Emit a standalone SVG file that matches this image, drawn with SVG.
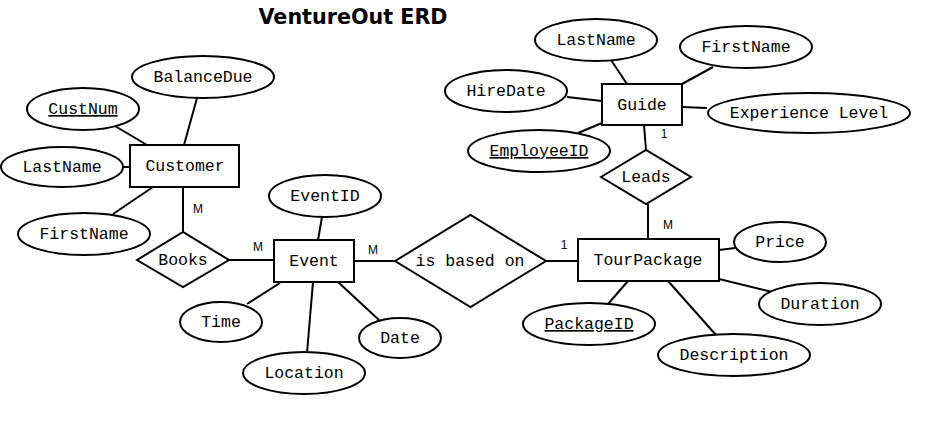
<svg xmlns="http://www.w3.org/2000/svg" width="931" height="445" viewBox="0 0 931 445">
<style>
.shape{fill:#fff;stroke:#000;stroke-width:2}
.t{font-family:"Liberation Mono","Courier New",monospace;font-size:16.5px;text-anchor:middle;fill:#000}
.u{text-decoration:underline}
.c{font-family:"Liberation Sans",Arial,sans-serif;font-size:12px;text-anchor:middle;fill:#000}
.ln{stroke:#000;stroke-width:2;fill:none}
.title{font-family:"DejaVu Sans",Verdana,sans-serif;font-weight:bold;font-size:21px;text-anchor:middle;fill:#000}
</style>
<rect width="931" height="445" fill="#fff"/>
<text class="title" x="353" y="24" textLength="189" lengthAdjust="spacingAndGlyphs">VentureOut ERD</text>
<g id="connectors">
<line class="ln" x1="115" y1="126" x2="147" y2="145"/>
<line class="ln" x1="197" y1="98" x2="184" y2="145"/>
<line class="ln" x1="123" y1="167" x2="130" y2="167"/>
<line class="ln" x1="113" y1="214" x2="153" y2="187"/>
<line class="ln" x1="183" y1="187" x2="183" y2="232"/>
<line class="ln" x1="229" y1="260" x2="274" y2="260"/>
<line class="ln" x1="354" y1="261" x2="395" y2="261"/>
<line class="ln" x1="322" y1="217" x2="318" y2="240"/>
<line class="ln" x1="247" y1="304" x2="280" y2="283"/>
<line class="ln" x1="307" y1="353" x2="313" y2="282"/>
<line class="ln" x1="379" y1="320" x2="338" y2="282"/>
<line class="ln" x1="546" y1="261" x2="578" y2="261"/>
<line class="ln" x1="648" y1="204" x2="648" y2="239"/>
<line class="ln" x1="719" y1="250" x2="735" y2="248"/>
<line class="ln" x1="719" y1="279" x2="772" y2="292"/>
<line class="ln" x1="608" y1="304" x2="628" y2="281"/>
<line class="ln" x1="716" y1="335" x2="668" y2="281"/>
<line class="ln" x1="611" y1="60" x2="627" y2="84"/>
<line class="ln" x1="567" y1="97" x2="602" y2="101"/>
<line class="ln" x1="578" y1="133" x2="602" y2="123"/>
<line class="ln" x1="713" y1="67" x2="682" y2="84"/>
<line class="ln" x1="682" y1="107" x2="707" y2="108"/>
<line class="ln" x1="644" y1="125" x2="646" y2="150"/>
<text class="c" x="198" y="213">M</text>
<text class="c" x="258" y="251">M</text>
<text class="c" x="373" y="254">M</text>
<text class="c" x="564" y="249">1</text>
<text class="c" x="668" y="229">M</text>
<text class="c" x="664" y="138">1</text>
</g>
<g id="customer"><rect class="shape" x="130" y="145" width="109" height="42"/><text class="t" x="185" y="171">Customer</text></g>
<g id="customer-balancedue"><ellipse class="shape" cx="203" cy="77" rx="71" ry="21"/><text class="t" x="203" y="82">BalanceDue</text></g>
<g id="customer-custnum"><ellipse class="shape" cx="83" cy="109" rx="56" ry="21"/><text class="t u" x="83" y="114">CustNum</text></g>
<g id="customer-lastname"><ellipse class="shape" cx="62" cy="167" rx="61" ry="20"/><text class="t" x="62" y="172">LastName</text></g>
<g id="customer-firstname"><ellipse class="shape" cx="84" cy="234" rx="66" ry="21"/><text class="t" x="84" y="239">FirstName</text></g>
<g id="books"><polygon class="shape" points="137,260 183,232 229,260 183,287"/><text class="t" x="183" y="265">Books</text></g>
<g id="event"><rect class="shape" x="274" y="240" width="80" height="42"/><text class="t" x="314" y="266">Event</text></g>
<g id="event-eventid"><ellipse class="shape" cx="325" cy="196" rx="56" ry="21"/><text class="t" x="325" y="201">EventID</text></g>
<g id="event-time"><ellipse class="shape" cx="221" cy="322" rx="41" ry="20"/><text class="t" x="221" y="327">Time</text></g>
<g id="event-location"><ellipse class="shape" cx="304" cy="373" rx="61" ry="21"/><text class="t" x="304" y="378">Location</text></g>
<g id="event-date"><ellipse class="shape" cx="400" cy="338" rx="41" ry="20"/><text class="t" x="400" y="343">Date</text></g>
<g id="is-based-on"><polygon class="shape" points="395,261 470.5,215 546,261 470.5,307"/><text class="t" x="470" y="266">is based on</text></g>
<g id="tourpackage"><rect class="shape" x="578" y="239" width="141" height="42"/><text class="t" x="648" y="265">TourPackage</text></g>
<g id="tourpackage-price"><ellipse class="shape" cx="780" cy="242" rx="46" ry="20"/><text class="t" x="780" y="247">Price</text></g>
<g id="tourpackage-duration"><ellipse class="shape" cx="820" cy="304" rx="61" ry="21"/><text class="t" x="820" y="309">Duration</text></g>
<g id="tourpackage-packageid"><ellipse class="shape" cx="589" cy="324" rx="66" ry="21"/><text class="t u" x="589" y="329">PackageID</text></g>
<g id="tourpackage-description"><ellipse class="shape" cx="734" cy="355" rx="76" ry="21"/><text class="t" x="734" y="360">Description</text></g>
<g id="leads"><polygon class="shape" points="601,177 646,150 691,177 646,204"/><text class="t" x="646" y="182">Leads</text></g>
<g id="guide"><rect class="shape" x="602" y="84" width="80" height="41"/><text class="t" x="642" y="110">Guide</text></g>
<g id="guide-lastname"><ellipse class="shape" cx="596" cy="40" rx="61" ry="21"/><text class="t" x="596" y="45">LastName</text></g>
<g id="guide-hiredate"><ellipse class="shape" cx="506" cy="91" rx="61" ry="21"/><text class="t" x="506" y="96">HireDate</text></g>
<g id="guide-employeeid"><ellipse class="shape" cx="539" cy="151" rx="71" ry="21"/><text class="t u" x="539" y="156">EmployeeID</text></g>
<g id="guide-firstname"><ellipse class="shape" cx="746" cy="47" rx="66" ry="21"/><text class="t" x="746" y="52">FirstName</text></g>
<g id="guide-experience"><ellipse class="shape" cx="809" cy="113" rx="101" ry="20"/><text class="t" x="809" y="118">Experience Level</text></g>
</svg>
